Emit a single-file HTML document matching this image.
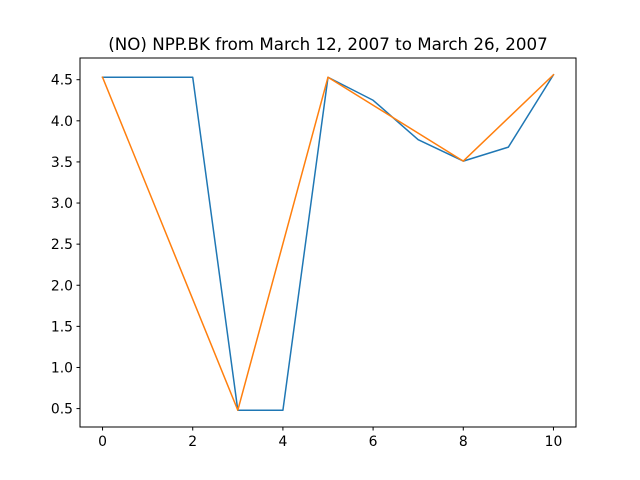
<!DOCTYPE html>
<html><head><meta charset="utf-8"><style>
body{margin:0;background:#fff;}
svg{display:block;font-family:"DejaVu Sans","Liberation Sans",sans-serif;}
</style></head><body>
<svg id="chart" width="640" height="480">
<rect width="640" height="480" fill="#fff"/>
<text x="328" y="50" font-size="16.7" text-anchor="middle">(NO) NPP.BK from March 12, 2007 to March 26, 2007</text>
<g id="plot"></g>
<rect x="80" y="58" width="496" height="369" fill="none" stroke="#000" stroke-width="1"/>
</svg>
<script>
const xTicks = [0, 2, 4, 6, 8, 10];
const yTicks = [0.5, 1.0, 1.5, 2.0, 2.5, 3.0, 3.5, 4.0, 4.5];
const blueX = [0, 1, 2, 3, 4, 5, 6, 7, 8, 9, 10];
const blueY = [4.53, 4.53, 4.53, 0.48, 0.48, 4.53, 4.25, 3.77, 3.51, 3.68, 4.56];
const orangeX = [0, 3, 5, 8, 10];
const orangeY = [4.53, 0.48, 4.53, 3.51, 4.56];

const L=80,R=576,T=58,B=427;
const xmin=-0.5,xmax=10.5;
const dmin=Math.min(...blueY,...orangeY),dmax=Math.max(...blueY,...orangeY);
const pad=(dmax-dmin)*0.05,ymin=dmin-pad,ymax=dmax+pad;
const sx=v=>L+(v-xmin)/(xmax-xmin)*(R-L);
const sy=v=>B-(v-ymin)/(ymax-ymin)*(B-T);
const g=document.getElementById('plot');
const NS='http://www.w3.org/2000/svg';
function mk(t,a){const e=document.createElementNS(NS,t);for(const k in a)e.setAttribute(k,a[k]);g.appendChild(e);return e;}
xTicks.forEach(v=>{
  const l=mk('line',{x1:sx(v),x2:sx(v),y1:B,y2:B+3.5,stroke:'#000'});
  
  
  const t=mk('text',{x:sx(v),y:B+19,'font-size':13.9,'text-anchor':'middle'});
  t.textContent=v;
  
  
});
yTicks.forEach(v=>{
  const l=mk('line',{x1:L-3.5,x2:L,y1:sy(v),y2:sy(v),stroke:'#000'});
  
  
  const t=mk('text',{x:L-7,y:sy(v)+5,'font-size':13.9,'text-anchor':'end'});
  t.textContent=v.toFixed(1);
  
  
});
function series(xs,ys,c,name){
  const p=mk('polyline',{points:xs.map((x,i)=>sx(x)+','+sy(ys[i])).join(' '),fill:'none',stroke:c,'stroke-width':1.5,'stroke-linejoin':'round','stroke-linecap':'square'});
  
  
}
series(blueX,blueY,'#1f77b4','blue-series-line');
series(orangeX,orangeY,'#ff7f0e','orange-series-line');
</script>
</body></html>
